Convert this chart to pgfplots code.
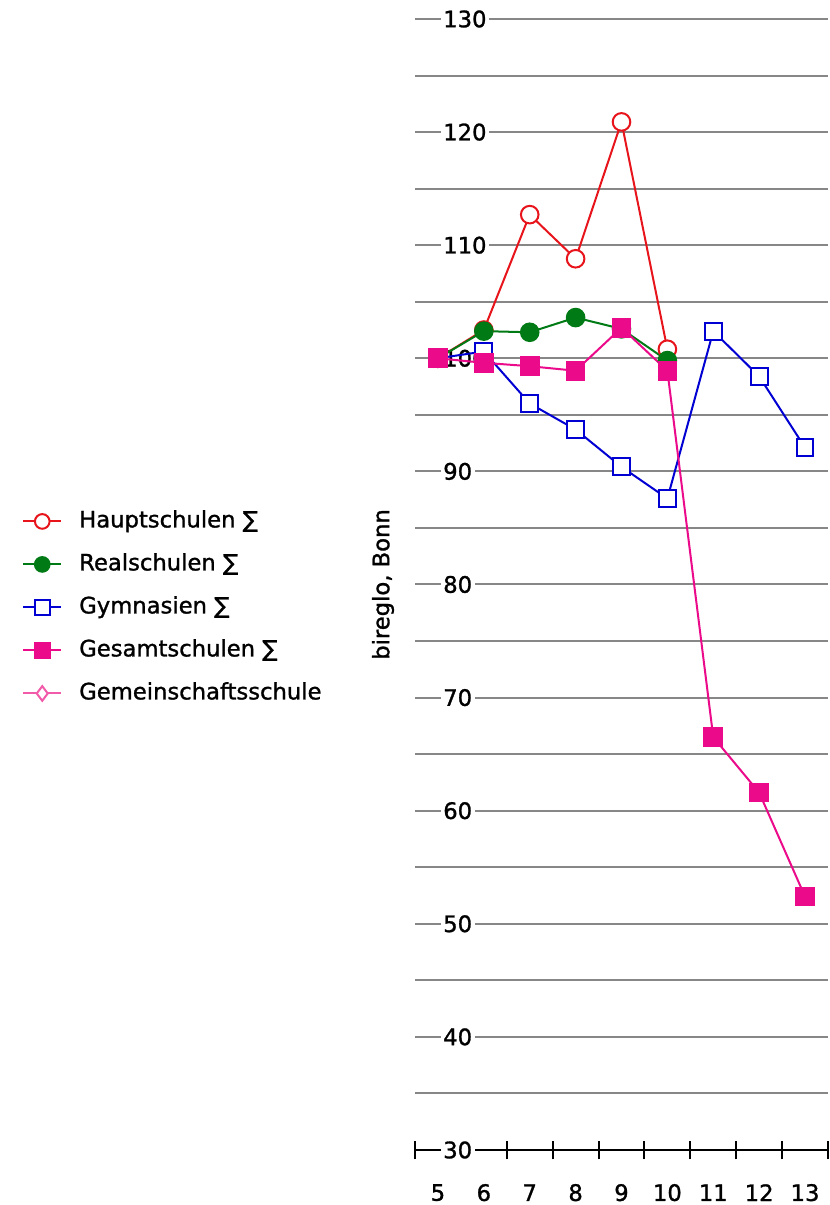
\documentclass[border=0pt]{standalone}
\usepackage{fontspec}
\setmainfont{DejaVu Sans}[BoldFont={DejaVu Sans}, BoldFeatures={FakeBold=1.2}]
\usepackage{pgfplots}
\pgfplotsset{compat=1.18}
\definecolor{cred}{RGB}{232,20,28}
\definecolor{cgreen}{RGB}{0,122,20}
\definecolor{cblue}{RGB}{0,0,210}
\definecolor{cpink}{RGB}{234,10,138}
\definecolor{cpinkl}{RGB}{242,90,170}
\definecolor{cgrid}{RGB}{135,135,135}
\newcommand\f{\fontsize{17}{20}\selectfont\bfseries}
\begin{document}
\begin{tikzpicture}
\begin{axis}[
  set layers,
  scale only axis, width=309.75pt, height=848.25pt,
  xmin=4.5, xmax=13.5, ymin=30, ymax=130,
  xtick={5,...,13}, minor xtick={4.5,5.5,...,13.5},
  ytick={30,40,...,130}, minor ytick={35,45,...,125},
  ymajorgrids, yminorgrids,
  major grid style={cgrid, line width=1.5pt},
  minor grid style={cgrid, line width=1.5pt},
  axis x line*=bottom, axis y line*=left,
  x axis line style={black, line width=1.5pt, -},
  y axis line style={draw=none},
  ytick style={draw=none},
  major tick length=0pt, minor tick length=14pt, tick align=center,
  xtick style={black, line width=1.5pt},
  /pgf/number format/assume math mode=true,
  xticklabel style={font=\f, anchor=center, yshift=-32pt},
  yticklabel style={font=\f, anchor=west, xshift=19pt, fill=white, inner sep=2pt},
  ylabel={bireglo, Bonn},
  ylabel style={font=\f, at={(axis description cs:-0.0775,0.5)}, anchor=center},
  legend image code/.code={
    \draw[mark repeat=2, mark phase=2, #1, mark size=5.5pt, line width=1.5pt]
      plot coordinates {(0pt,0pt) (14.25pt,0pt) (28.5pt,0pt)};
  },
  legend cell align=left,
  legend style={font=\f, draw=none, fill=none, inner sep=0pt, row sep=15.25pt,
    at={(axis description cs:-0.9516,0.4797)}, anchor=west,
    nodes={inner sep=0pt, text height=13pt, text depth=4pt},
    /tikz/every odd column/.append style={column sep=12.75pt}},
]
\addplot[cred, line width=1.5pt, mark=*, mark size=6.6pt, mark options={fill=white, line width=1.5pt}]
  coordinates {(5,100) (6,102.5) (7,112.7) (8,108.8) (9,120.9) (10,100.8)};
\addlegendentry{Hauptschulen ∑}
\addplot[cgreen, line width=1.5pt, mark=*, mark size=6.6pt, mark options={fill=cgreen}]
  coordinates {(5,100) (6,102.4) (7,102.3) (8,103.6) (9,102.6) (10,99.8)};
\addlegendentry{Realschulen ∑}
\addplot[cblue, line width=1.5pt, mark=square*, mark size=6.3pt, mark options={fill=white, line width=1.5pt}]
  coordinates {(5,100) (6,100.6) (7,96.0) (8,93.7) (9,90.4) (10,87.6) (11,102.4) (12,98.4) (13,92.1)};
\addlegendentry{Gymnasien ∑}
\addplot[cpink, line width=1.5pt, mark=square*, mark size=6.6pt, mark options={fill=cpink}]
  coordinates {(5,100) (6,99.6) (7,99.3) (8,98.9) (9,102.7) (10,98.9) (11,66.5) (12,61.6) (13,52.4)};
\addlegendentry{Gesamtschulen ∑}
\addlegendimage{cpinkl, line width=1.5pt, mark=diamond*, mark options={fill=white, line width=1.5pt}}
\addlegendentry{Gemeinschaftsschule}
\end{axis}
\pgfresetboundingbox
\path[use as bounding box] (current axis.south west) ++(-311.25pt,-41.25pt) rectangle ++(621.75pt,903.75pt);
\end{tikzpicture}
\end{document}
